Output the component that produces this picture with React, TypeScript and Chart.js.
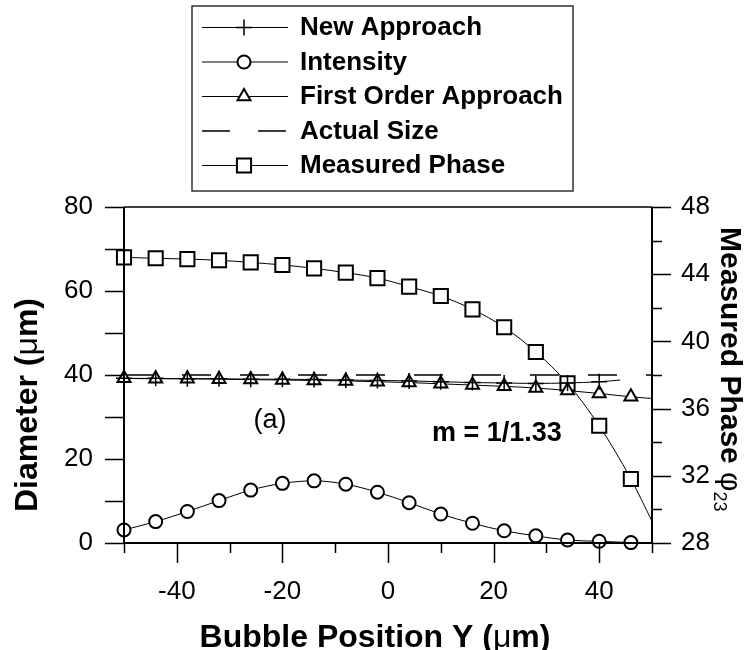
import React, { useEffect, useRef } from "react";
import { Chart, registerables } from "chart.js";

Chart.register(...registerables);

const FONT = '"Liberation Sans", Arial, Helvetica, sans-serif';

// ---- data ----
const positionY = [-50, -44, -38, -32, -26, -20, -14, -8, -2, 4, 10, 16, 22, 28, 34, 40, 46];
const curveEndX = 50;

const newApproachX = [-50, -44, -38, -32, -26, -20, -14, -8, -2, 4, 10, 16, 22, 28, 34, 40];
const newApproach = [39.2, 39.2, 39.1, 39.1, 39.0, 39.0, 38.9, 38.8, 38.7, 38.6, 38.4, 38.2, 38.1, 38.0, 38.1, 38.4];
const newApproachEndX = 44;
const newApproachEnd = 38.8;

const intensity = [3.1, 5.1, 7.5, 10.1, 12.6, 14.2, 14.8, 14.0, 12.1, 9.6, 6.9, 4.7, 2.9, 1.7, 0.7, 0.4, 0.1];
const intensityEnd = 0;

const firstOrder = [39.2, 39.1, 39.1, 39.0, 38.9, 38.8, 38.7, 38.6, 38.4, 38.2, 37.9, 37.6, 37.3, 36.9, 36.3, 35.6, 34.8];
const firstOrderEnd = 34.4;

const actualSizeX = [-50, 50];
const actualSize = [40, 40];

const measuredPhase = [45.0, 44.95, 44.9, 44.83, 44.7, 44.55, 44.35, 44.09, 43.77, 43.26, 42.7, 41.91, 40.84, 39.37, 37.5, 34.98, 31.81];
const measuredPhaseEnd = 29.3;

const xTickLabels = [-40, -20, 0, 20, 40];
const xTickMarks = [-50, -40, -30, -20, -10, 0, 10, 20, 30, 40, 50];
const diameterTickLabels = [0, 20, 40, 60, 80];
const diameterTickMarks = [0, 10, 20, 30, 40, 50, 60, 70, 80];
const phaseTickLabels = [28, 32, 36, 40, 44, 48];
const phaseTickMarks = [28, 30, 32, 34, 36, 38, 40, 42, 44, 46, 48];

const legendLabels = ["New Approach", "Intensity", "First Order Approach", "Actual Size", "Measured Phase"];
const legendStyles = ["cross", "circle", "triangle", "dash", "rect"];

// ---- helpers ----
function drawMarker(ctx: CanvasRenderingContext2D, style: string, x: number, y: number) {
  ctx.save();
  ctx.strokeStyle = "#000";
  ctx.fillStyle = "#fff";
  ctx.lineWidth = 2;
  ctx.beginPath();
  if (style === "circle") {
    ctx.arc(x, y, 6.5, 0, Math.PI * 2);
    ctx.fill();
    ctx.stroke();
  } else if (style === "rect") {
    const s = 7.07;
    ctx.rect(x - s, y - s, 2 * s, 2 * s);
    ctx.fill();
    ctx.stroke();
  } else if (style === "triangle") {
    const r = 7.5;
    for (let i = 0; i < 3; i++) {
      const a = (i * 2 * Math.PI) / 3;
      const px = x + Math.sin(a) * r;
      const py = y - Math.cos(a) * r;
      if (i === 0) ctx.moveTo(px, py);
      else ctx.lineTo(px, py);
    }
    ctx.closePath();
    ctx.fill();
    ctx.stroke();
  } else if (style === "cross") {
    ctx.lineWidth = 1.5;
    ctx.moveTo(x, y - 8);
    ctx.lineTo(x, y + 8);
    ctx.moveTo(x - 8, y);
    ctx.lineTo(x + 8, y);
    ctx.stroke();
  }
  ctx.restore();
}

type Piece = { t: string; f: string };
function drawRich(ctx: CanvasRenderingContext2D, pieces: Piece[], x: number, y: number, align: "left" | "center") {
  let total = 0;
  for (const p of pieces) {
    ctx.font = p.f;
    total += ctx.measureText(p.t).width;
  }
  let cx = align === "center" ? x - total / 2 : x;
  ctx.textAlign = "left";
  for (const p of pieces) {
    ctx.font = p.f;
    ctx.fillText(p.t, cx, y);
    cx += ctx.measureText(p.t).width;
  }
}

const overlayPlugin = {
  id: "overlay",
  afterDatasetsDraw(chart: any) {
    const ctx: CanvasRenderingContext2D = chart.ctx;
    const { left, right, top, bottom } = chart.chartArea;
    const xs = chart.scales.x;
    const ys = chart.scales.y;
    const y2 = chart.scales.y2;
    ctx.save();
    ctx.strokeStyle = "#000";
    ctx.lineCap = "butt";
    // frame
    ctx.lineWidth = 1.5;
    ctx.beginPath();
    ctx.moveTo(left, top);
    ctx.lineTo(right, top);
    ctx.stroke();
    ctx.lineWidth = 2;
    ctx.beginPath();
    ctx.moveTo(left, top);
    ctx.lineTo(left, bottom);
    ctx.moveTo(right, top);
    ctx.lineTo(right, bottom);
    ctx.moveTo(left - 1, bottom);
    ctx.lineTo(right + 1, bottom);
    ctx.stroke();
    // ticks
    ctx.lineWidth = 1.5;
    ctx.beginPath();
    for (const v of xTickMarks) {
      const px = Math.round(xs.getPixelForValue(v)) + 0.5;
      const len = v % 20 === 0 ? 20 : 10;
      ctx.moveTo(px, bottom);
      ctx.lineTo(px, bottom + len);
    }
    for (const v of diameterTickMarks) {
      const py = Math.round(ys.getPixelForValue(v)) + 0.5;
      ctx.moveTo(left - 19, py);
      ctx.lineTo(left, py);
    }
    for (const v of phaseTickMarks) {
      const py = Math.round(y2.getPixelForValue(v)) + 0.5;
      const len = (v - 28) % 4 === 0 ? 19 : 10;
      ctx.moveTo(right, py);
      ctx.lineTo(right + len, py);
    }
    ctx.stroke();
    ctx.restore();
  },
  afterDraw(chart: any) {
    const ctx: CanvasRenderingContext2D = chart.ctx;
    ctx.save();
    ctx.fillStyle = "#000";
    ctx.textBaseline = "alphabetic";

    // x title
    drawRich(
      ctx,
      [
        { t: "Bubble Position Y (", f: `bold 32px ${FONT}` },
        { t: "\u03bc", f: `32px ${FONT}` },
        { t: "m)", f: `bold 32px ${FONT}` },
      ],
      375,
      647,
      "center"
    );

    // left title
    ctx.save();
    ctx.translate(28, 405);
    ctx.rotate(-Math.PI / 2);
    ctx.textBaseline = "middle";
    drawRich(
      ctx,
      [
        { t: "Diameter (", f: `bold 32px ${FONT}` },
        { t: "\u03bc", f: `32px ${FONT}` },
        { t: "m)", f: `bold 32px ${FONT}` },
      ],
      0,
      0,
      "center"
    );
    ctx.restore();

    // right title
    ctx.save();
    ctx.translate(729, 227);
    ctx.rotate(Math.PI / 2);
    ctx.textBaseline = "middle";
    ctx.textAlign = "left";
    ctx.font = `bold 30px ${FONT}`;
    const t1 = "Measured Phase ";
    ctx.fillText(t1, 0, 0);
    let w = ctx.measureText(t1).width;
    ctx.font = `30px ${FONT}`;
    ctx.fillText("\u03c6", w, 0);
    w += ctx.measureText("\u03c6").width;
    ctx.font = `18px ${FONT}`;
    ctx.fillText("23", w, 10);
    ctx.restore();

    // annotations
    ctx.textBaseline = "middle";
    ctx.textAlign = "center";
    ctx.font = `27px ${FONT}`;
    ctx.fillText("(a)", 270, 421);
    ctx.textAlign = "left";
    ctx.font = `bold 27px ${FONT}`;
    ctx.fillText("m = 1/1.33", 432, 434);

    // legend
    ctx.strokeStyle = "#333";
    ctx.lineWidth = 1.5;
    ctx.strokeRect(192, 6, 381, 185);
    for (let i = 0; i < legendLabels.length; i++) {
      const y = 27 + 34.5 * i;
      const style = legendStyles[i];
      ctx.save();
      ctx.strokeStyle = "#000";
      ctx.lineWidth = style === "dash" ? 1.5 : 1;
      if (style === "dash") ctx.setLineDash([28, 28]);
      ctx.beginPath();
      ctx.moveTo(202, y + 0.5);
      ctx.lineTo(288, y + 0.5);
      ctx.stroke();
      ctx.restore();
      if (style !== "dash") drawMarker(ctx, style, 244, y + 0.5);
      ctx.fillStyle = "#000";
      ctx.font = `bold 26px ${FONT}`;
      ctx.textAlign = "left";
      ctx.textBaseline = "middle";
      ctx.fillText(legendLabels[i], 300, y + 1);
    }
    ctx.restore();
  },
};

export default function App() {
  const canvasRef = useRef<HTMLCanvasElement | null>(null);

  useEffect(() => {
    document.body.style.margin = "0";
    const canvas = canvasRef.current;
    if (!canvas) return;
    Chart.defaults.font.family = FONT;
    Chart.defaults.color = "#000";

    const n = positionY.length;
    const mainRadius = (r: number) => (c: any) => (c.dataIndex < n ? r : 0);

    const chart = new Chart(canvas, {
      type: "line",
      data: {
        datasets: [
          {
            label: legendLabels[0],
            data: newApproachX
              .map((x, i) => ({ x, y: newApproach[i] }))
              .concat([{ x: newApproachEndX, y: newApproachEnd }]),
            yAxisID: "y",
            borderColor: "#000",
            borderWidth: 1,
            pointStyle: "cross",
            pointRadius: (c: any) => (c.dataIndex < newApproachX.length ? 8 : 0),
            pointBorderWidth: 1.5,
            pointBorderColor: "#000",
            cubicInterpolationMode: "monotone",
            clip: false,
          },
          {
            label: legendLabels[1],
            data: positionY.map((x, i) => ({ x, y: intensity[i] })).concat([{ x: curveEndX, y: intensityEnd }]),
            yAxisID: "y",
            borderColor: "#000",
            borderWidth: 1,
            pointStyle: "circle",
            pointRadius: mainRadius(6.5),
            pointBorderWidth: 2,
            pointBorderColor: "#000",
            pointBackgroundColor: "#fff",
            cubicInterpolationMode: "monotone",
            clip: false,
          },
          {
            label: legendLabels[2],
            data: positionY.map((x, i) => ({ x, y: firstOrder[i] })).concat([{ x: curveEndX, y: firstOrderEnd }]),
            yAxisID: "y",
            borderColor: "#000",
            borderWidth: 1,
            pointStyle: "triangle",
            pointRadius: mainRadius(7.5),
            pointBorderWidth: 2,
            pointBorderColor: "#000",
            pointBackgroundColor: "#fff",
            cubicInterpolationMode: "monotone",
            clip: false,
          },
          {
            label: legendLabels[3],
            data: actualSizeX.map((x, i) => ({ x, y: actualSize[i] })),
            yAxisID: "y",
            borderColor: "#000",
            borderWidth: 1.5,
            borderDash: [29, 29],
            pointRadius: 0,
            clip: false,
          },
          {
            label: legendLabels[4],
            data: positionY.map((x, i) => ({ x, y: measuredPhase[i] })).concat([{ x: curveEndX, y: measuredPhaseEnd }]),
            yAxisID: "y2",
            borderColor: "#000",
            borderWidth: 1,
            pointStyle: "rect",
            pointRadius: mainRadius(10),
            pointBorderWidth: 2,
            pointBorderColor: "#000",
            pointBackgroundColor: "#fff",
            cubicInterpolationMode: "monotone",
            clip: false,
          },
        ],
      },
      options: {
        responsive: false,
        animation: false,
        devicePixelRatio: 1,
        layout: { padding: { top: 207, left: 0, right: 0, bottom: 0 } },
        plugins: {
          legend: { display: false },
          tooltip: { enabled: false },
          title: { display: false },
        },
        scales: {
          x: {
            type: "linear",
            position: "bottom",
            min: -50,
            max: 50,
            afterFit: (s: any) => {
              s.height = 107;
            },
            afterBuildTicks: (s: any) => {
              s.ticks = xTickLabels.map((v) => ({ value: v }));
            },
            grid: { display: false, drawTicks: false },
            border: { display: false },
            ticks: {
              padding: 33,
              maxRotation: 0,
              minRotation: 0,
              autoSkip: false,
              color: "#000",
              font: { size: 26, family: FONT },
            },
          },
          y: {
            type: "linear",
            position: "left",
            min: 0,
            max: 80,
            afterFit: (s: any) => {
              s.width = 124;
            },
            afterBuildTicks: (s: any) => {
              s.ticks = diameterTickLabels.map((v) => ({ value: v }));
            },
            grid: { display: false, drawTicks: false },
            border: { display: false },
            ticks: { padding: 31, autoSkip: false, color: "#000", font: { size: 26, family: FONT } },
          },
          y2: {
            type: "linear",
            position: "right",
            min: 28,
            max: 48,
            afterFit: (s: any) => {
              s.width = 102;
            },
            afterBuildTicks: (s: any) => {
              s.ticks = phaseTickLabels.map((v) => ({ value: v }));
            },
            grid: { display: false, drawTicks: false },
            border: { display: false },
            ticks: { padding: 29, autoSkip: false, color: "#000", font: { size: 26, family: FONT } },
          },
        },
      },
      plugins: [overlayPlugin],
    } as any);

    return () => {
      chart.destroy();
    };
  }, []);

  return (
    <div style={{ width: 754, height: 650 }}>
      <canvas ref={canvasRef} width={754} height={650} style={{ display: "block", width: 754, height: 650 }} />
    </div>
  );
}
